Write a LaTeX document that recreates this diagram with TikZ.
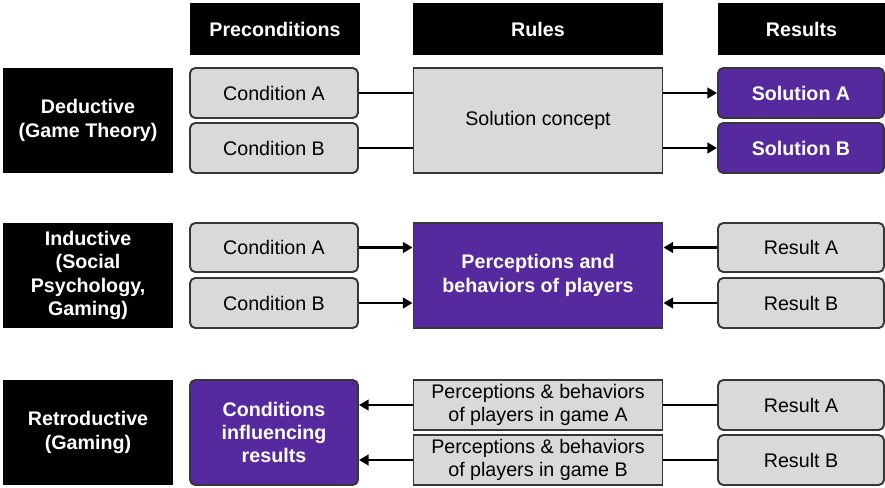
\documentclass[tikz,border=0pt]{standalone}
\usepackage{fontspec}
\setmainfont{Liberation Sans}
\usetikzlibrary{arrows.meta}
\definecolor{gamepurple}{RGB}{86,42,158}
\definecolor{boxgray}{RGB}{217,217,217}
\definecolor{edgegray}{RGB}{55,55,55}
\tikzstyle{head} = [rectangle,fill=black,text=white,font=\fontsize{11.2}{13.2}\selectfont\bfseries,inner sep=0pt,align=center]
\tikzstyle{cell} = [rectangle,draw=edgegray,line width=1.1pt,fill=boxgray,inner sep=0pt,align=center,font=\fontsize{11.2}{13.2}\selectfont]
\tikzstyle{soft} = [cell,rounded corners=3pt]
\tikzstyle{hot} = [text=white,fill=gamepurple,font=\fontsize{11.2}{13.2}\selectfont\bfseries]
\tikzstyle{link} = [line width=1.5pt,black]
\tikzstyle{arr} = [link,-{Triangle[length=5.5pt,width=6pt]}]

\begin{document}
\begin{tikzpicture}[x=0.02cm,y=-0.02cm]
  \useasboundingbox (0,0) rectangle (885,487);
  % column heads
  \node[head,minimum width=3.4cm,minimum height=1.04cm] (pre) at (275,29) {Preconditions};
  \node[head,minimum width=5cm,minimum height=1.04cm] (rul) at (538,29) {Rules};
  \node[head,minimum width=3.34cm,minimum height=1.04cm] (res) at (801.5,29) {Results};
  % row heads
  \node[head,minimum width=3.4cm,minimum height=2.1cm] (ded) at (88,120.5) {Deductive\\(Game Theory)};
  \node[head,minimum width=3.4cm,minimum height=2.1cm] (ind) at (88,275.5) {Inductive\\(Social\\Psychology,\\Gaming)};
  \node[head,minimum width=3.4cm,minimum height=2.1cm] (ret) at (88,432.5) {Retroductive\\(Gaming)};
  % deductive
  \node[soft,minimum width=3.36cm,minimum height=1cm] (dcA) at (274,93) {Condition A};
  \node[soft,minimum width=3.36cm,minimum height=1cm] (dcB) at (274,148) {Condition B};
  \node[cell,minimum width=4.98cm,minimum height=2.1cm] (dsc) at (538,120.5) {Solution concept};
  \node[soft,hot,minimum width=3.32cm,minimum height=1cm] (dsA) at (801,93) {Solution A};
  \node[soft,hot,minimum width=3.32cm,minimum height=1cm] (dsB) at (801,148) {Solution B};
  \draw[link] (dcA) -- (dsc.west |- dcA);
  \draw[link] (dcB) -- (dsc.west |- dcB);
  \draw[arr] (dsc.east |- dsA) -- (dsA);
  \draw[arr] (dsc.east |- dsB) -- (dsB);
  % inductive
  \node[soft,minimum width=3.36cm,minimum height=0.98cm] (icA) at (274,247.5) {Condition A};
  \node[soft,minimum width=3.36cm,minimum height=1cm] (icB) at (274,303) {Condition B};
  \node[cell,hot,minimum width=4.98cm,minimum height=2.1cm] (ipb) at (538,275.5) {Perceptions and\\behaviors of players};
  \node[soft,minimum width=3.32cm,minimum height=0.98cm] (irA) at (801,247.5) {Result A};
  \node[soft,minimum width=3.32cm,minimum height=1cm] (irB) at (801,303) {Result B};
  \draw[arr] (icA) -- (ipb.west |- icA);
  \draw[arr] (icB) -- (ipb.west |- icB);
  \draw[arr] (irA) -- (ipb.east |- irA);
  \draw[arr] (irB) -- (ipb.east |- irB);
  % retroductive
  \node[soft,hot,minimum width=3.36cm,minimum height=2.1cm] (rci) at (274,432.5) {Conditions\\influencing\\results};
  \node[cell,minimum width=4.98cm,minimum height=1cm] (rpA) at (538,405) {Perceptions \& behaviors\\of players in game A};
  \node[cell,minimum width=4.98cm,minimum height=1cm] (rpB) at (538,460) {Perceptions \& behaviors\\of players in game B};
  \node[soft,minimum width=3.32cm,minimum height=1cm] (rrA) at (801,405) {Result A};
  \node[soft,minimum width=3.32cm,minimum height=1cm] (rrB) at (801,460) {Result B};
  \draw[arr] (rpA) -- (rci.east |- rpA);
  \draw[arr] (rpB) -- (rci.east |- rpB);
  \draw[link] (rrA) -- (rpA);
  \draw[link] (rrB) -- (rpB);
\end{tikzpicture}
\end{document}
